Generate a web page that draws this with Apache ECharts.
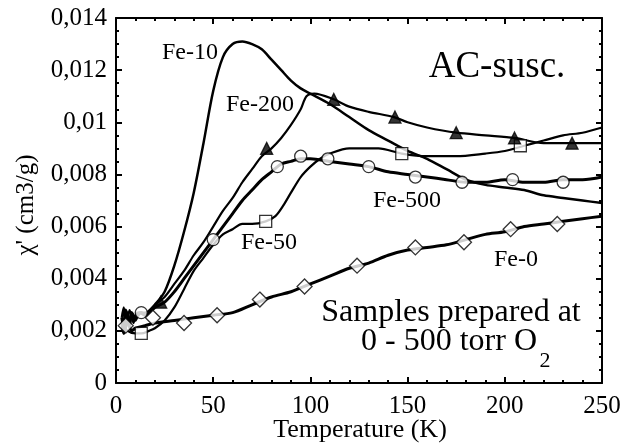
<!DOCTYPE html>
<html>
<head>
<meta charset="utf-8">
<script src="https://cdn.jsdelivr.net/npm/echarts@6/dist/echarts.min.js"></script>
<style>html,body{margin:0;padding:0;background:#fff}#c{width:631px;height:445px}</style>
</head>
<body>
<div id="c"></div>
<script>
const xTicks = [0, 50, 100, 150, 200, 250];
const yTicks = [0, 0.002, 0.004, 0.006, 0.008, 0.01, 0.012, 0.014];

const fe10 = [[3,0.0025],[4,0.0029],[5,0.0022],[6,0.0027],[7,0.0021],[8,0.0026],[10,0.0024],[12,0.0027],[15,0.0026],[20,0.0030],[25,0.0035],[30,0.0045],[35,0.0058],[40,0.0073],[45,0.0092],[50,0.0112],[55,0.0125],[60,0.0130],[65,0.0131],[70,0.0130],[75,0.0128],[80,0.0124],[85,0.0120],[90,0.0116],[95,0.0113],[100,0.0111],[110,0.0107],[120,0.0102],[130,0.0097],[140,0.0093],[150,0.0089],[160,0.0086],[170,0.0082],[180,0.0078],[190,0.0076],[200,0.0075],[210,0.0074],[220,0.0072],[230,0.0071],[240,0.0070],[250,0.0069]];

const fe200 = [[3,0.0025],[5,0.0021],[7,0.0028],[9,0.0023],[11,0.0027],[15,0.0027],[20,0.0030],[25,0.0033],[30,0.0038],[35,0.0043],[40,0.0049],[45,0.0054],[50,0.0060],[55,0.0066],[60,0.0071],[65,0.0077],[70,0.0082],[75,0.0087],[80,0.0090],[85,0.0094],[90,0.0099],[95,0.0105],[98,0.0110],[102,0.0111],[112,0.01088],[120,0.0106],[130,0.0104],[143,0.0102],[150,0.0100],[160,0.0098],[175,0.0096],[190,0.0095],[205,0.0094],[220,0.0092],[235,0.0092],[250,0.0092]];

const fe50 = [[3,0.0023],[6,0.0020],[10,0.0019],[13,0.0019],[17,0.0020],[20,0.0021],[25,0.0024],[30,0.0029],[35,0.0036],[40,0.0043],[45,0.0048],[50,0.0053],[55,0.0057],[60,0.0059],[65,0.0061],[70,0.0061],[77,0.0062],[82,0.0064],[86,0.0068],[90,0.0073],[95,0.0079],[100,0.0083],[105,0.0086],[110,0.0088],[120,0.0090],[128,0.0090],[135,0.0090],[147,0.0088],[160,0.0087],[175,0.0087],[190,0.0088],[200,0.0089],[210,0.0091],[220,0.0093],[230,0.0095],[240,0.0096],[250,0.0098]];

const fe500 = [[3,0.0025],[4,0.0021],[5,0.0028],[7,0.0023],[8,0.0027],[10,0.0025],[13,0.0027],[15,0.0026],[20,0.0029],[25,0.0031],[30,0.0035],[35,0.0040],[40,0.0045],[45,0.0050],[50,0.0055],[55,0.0060],[60,0.0065],[65,0.0070],[70,0.0074],[75,0.0078],[80,0.0081],[85,0.0084],[90,0.0085],[95,0.0086],[100,0.0086],[110,0.0085],[120,0.0084],[130,0.0083],[140,0.0081],[150,0.0080],[160,0.0079],[170,0.0078],[180,0.0077],[190,0.0077],[200,0.0078],[210,0.0077],[220,0.0077],[230,0.0078],[240,0.0078],[250,0.0079]];

const fe0 = [[3,0.0023],[4,0.0019],[6,0.0024],[8,0.0020],[10,0.0021],[15,0.0022],[20,0.0023],[30,0.0024],[40,0.0025],[50,0.0026],[60,0.0027],[70,0.0030],[80,0.0033],[90,0.0035],[100,0.0038],[110,0.0041],[120,0.0044],[130,0.0046],[140,0.0049],[150,0.0051],[160,0.0052],[170,0.0053],[180,0.0055],[190,0.0057],[200,0.0058],[210,0.0060],[220,0.0061],[230,0.0062],[240,0.0063],[250,0.0064]];

const fe200Markers = [[23,0.0031],[77.5,0.0090],[112,0.01088],[143.5,0.0102],[175,0.0096],[205,0.0094],[234.6,0.0092]];
const fe50Markers = [[13,0.0019],[77,0.0062],[147,0.0088],[208,0.0091]];
const fe500Markers = [[13,0.0027],[50,0.0055],[83,0.0083],[95,0.0087],[109,0.0086],[130,0.0083],[154,0.0079],[178,0.0077],[204,0.0078],[230,0.0077]];
const fe0Markers = [[5,0.0022],[19,0.0025],[35,0.0023],[52,0.0026],[74,0.0032],[97,0.0037],[124,0.0045],[154,0.0052],[179,0.0054],[203,0.0059],[227,0.0061]];

const FONT = '"Liberation Serif", "Times New Roman", serif';
const chart = echarts.init(document.getElementById('c'), null, {renderer: 'canvas'});

function fmtY(v) {
  const s = String(+v.toFixed(4));
  return s.replace('.', ',');
}
function mkAxis(base, pos, showLabels, split, extra) {
  return Object.assign({}, base, {
    position: pos,
    axisLine: {show: true, onZero: false, lineStyle: {color: '#000', width: 2}},
    axisTick: {show: true, inside: true, length: 6, lineStyle: {color: '#000', width: 2}},
    minorTick: {show: true, splitNumber: split, length: 3, lineStyle: {color: '#000', width: 2}},
    splitLine: {show: false},
    axisLabel: Object.assign({show: showLabels, color: '#000', fontFamily: FONT, fontSize: 25}, extra || {})
  });
}
const xBase = {type: 'value', min: xTicks[0], max: xTicks[xTicks.length-1], interval: xTicks[1]-xTicks[0]};
const yBase = {type: 'value', min: yTicks[0], max: yTicks[yTicks.length-1], interval: yTicks[1]-yTicks[0]};

function lineSeries(data, w) {
  return {type: 'line', data: data, xAxisIndex: 0, yAxisIndex: 0, showSymbol: false, symbol: 'none',
    smooth: 0.3, lineStyle: {color: '#000', width: w}, z: 2, silent: true};
}
function markSeries(data, symbol, size, filled) {
  return {type: 'scatter', data: data, xAxisIndex: 0, yAxisIndex: 0, symbol: symbol, symbolSize: size,
    itemStyle: {color: filled ? '#000' : '#fff', borderColor: '#000', borderWidth: 1.3}, z: 3, silent: true};
}
const txt = (x, y, t, size, extra) => Object.assign({type: 'text', x: x, y: y, style: {text: t, font: size + 'px ' + FONT, fill: '#000', align: 'center', verticalAlign: 'middle'}}, extra || {});

chart.setOption({
  animation: false,
  backgroundColor: '#fff',
  grid: {left: 116, right: 29, top: 18, bottom: 62, containLabel: false},
  xAxis: [
    mkAxis(xBase, 'bottom', true, 5, {margin: 11}),
    mkAxis(xBase, 'top', false, 5)
  ],
  yAxis: [
    mkAxis(yBase, 'left', true, 4, {margin: 9, formatter: fmtY}),
    mkAxis(yBase, 'right', false, 4)
  ],
  series: [
    lineSeries(fe0, 3),
    lineSeries(fe500, 3),
    lineSeries(fe50, 2.2),
    lineSeries(fe200, 2.2),
    lineSeries(fe10, 2.5),
    markSeries(fe0Markers, 'diamond', 15, false),
    markSeries(fe500Markers, 'circle', 12, false),
    markSeries(fe50Markers, 'rect', 12, false),
    markSeries(fe200Markers, 'triangle', 12, true)
  ],
  graphic: [
    txt(190, 53, 'Fe-10', 24),
    txt(260, 105, 'Fe-200', 24),
    txt(407, 201, 'Fe-500', 24),
    txt(269, 243, 'Fe-50', 24),
    txt(516, 260, 'Fe-0', 24),
    txt(497, 67, 'AC-susc.', 37),
    txt(451, 313, 'Samples prepared at', 32),
    txt(449, 342, '0 - 500 torr O', 32),
    txt(545, 361, '2', 22),
    txt(360, 430, 'Temperature (K)', 26),
    txt(26, 205, "χ' (cm3/g)", 25, {rotation: Math.PI / 2})
  ]
});
</script>
</body>
</html>
